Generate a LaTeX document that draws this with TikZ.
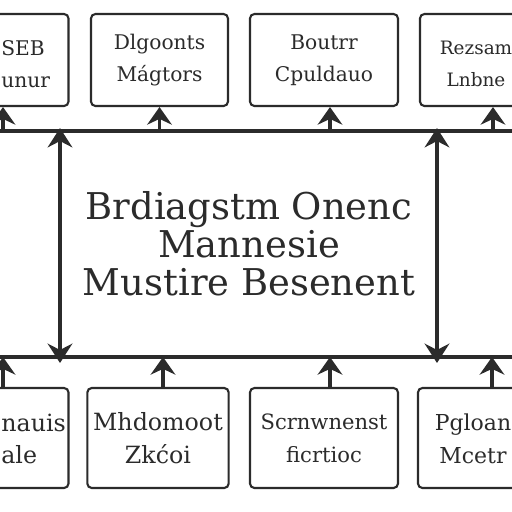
\documentclass[tikz,border=0pt]{standalone}
\usepackage{fontspec}
\setmainfont{DejaVu Serif}
\usepackage{tikz}
\usetikzlibrary{arrows.meta}
\definecolor{ink}{HTML}{2B2B2B}
\newcommand\tightlines{\lineskiplimit=-50pt\relax}
\tikzset{
  box/.style={draw=ink, line width=1.2pt, rounded corners=2.5pt, align=center,
    text=ink, minimum height=1.84cm},
  boxlow/.style={box, minimum height=2cm},
  small/.style={font=\fontsize{11.5}{18}\selectfont},
  big/.style={font=\fontsize{13.5}{18.7}\selectfont},
  edgetxt/.style={text=ink, inner sep=0pt},
  link/.style={draw=ink, line width=1.8pt, -{Stealth[width=14pt,length=10pt]}},
  bus/.style={draw=ink, line width=1.8pt},
  side/.style={draw=ink, line width=1.8pt, {Stealth[width=14pt,length=11pt]}-{Stealth[width=14pt,length=11pt]}}
}
\begin{document}
\begin{tikzpicture}[x=0.02cm,y=-0.02cm]
      \useasboundingbox (0,0) rectangle (512,512);
      \clip (0,0) rectangle (512,512);
      \fill[white] (0,0) rectangle (512,512);
      \draw
        (-1,60) node[box, minimum width=2.78cm] (t1){}
        (159.5,60) node[box, small, minimum width=2.74cm] (t2){Dlgoonts\\Mágtors}
        (324,60) node[box, small, minimum width=2.96cm] (t3){Boutrr\\Cpuldauo}
        (490,60) node[box, minimum width=2.8cm] (t4){}
        (-1,438) node[boxlow, minimum width=2.78cm] (b1){}
        (158,438) node[boxlow, big, minimum width=2.8cm] (b2){Mhdomoot\\Zkćoi}
        (324,438) node[boxlow, font=\fontsize{12}{18.7}\selectfont, minimum width=2.96cm] (b3){Scrnwnenst\\ficrtioc}
        (488,438) node[boxlow, minimum width=2.8cm] (b4){}
        (249,244) node[align=center, text=ink,
          font={\fontsize{21}{21.6}\selectfont\tightlines}] (main){Brdiagstm Onenc\\Mannesie\\Mustire Besenent};
      % texts of the boxes at the left and right edges
      \node[small, edgetxt, align=left, anchor=west] (t1txt) at (1,64) {SEB\\unur};
      \node[big, edgetxt, align=left, anchor=west] (b1txt) at (1,439) {nauis\\ale};
      \node[edgetxt, font=\fontsize{10.5}{18}\selectfont, align=center] (t4txt) at (476,64) {Rezsam\\Lnbne};
      \node[edgetxt, font=\fontsize{12.5}{18.7}\selectfont, align=center] (b4txt) at (473,439) {Pgloan\\Mcetr};
      \coordinate (tl) at (0,131);
      \coordinate (tr) at (512,131);
      \coordinate (bl) at (0,357);
      \coordinate (br) at (512,357);
      \begin{scope}
        \draw[bus] (tl) -- (tr);
        \draw[bus] (bl) -- (br);
        \draw[side] (60,128) coordinate (sl1) -- (60,363) coordinate (sl2);
        \draw[side] (437,128) coordinate (sr1) -- (437,363) coordinate (sr2);
        \draw[link] (3,131) coordinate (c1) -- (c1 |- t1.south);
        \draw[link] (t2.south |- tl) -- (t2.south);
        \draw[link] (330,131) coordinate (c3) -- (c3 |- t3.south);
        \draw[link] (493,131) coordinate (c4) -- (c4 |- t4.south);
        \draw[link] (3,388) coordinate (d1) -- (d1 |- bl);
        \draw[link] (163,388) coordinate (d2) -- (d2 |- bl);
        \draw[link] (330,388) coordinate (d3) -- (d3 |- bl);
        \draw[link] (492,388) coordinate (d4) -- (d4 |- bl);
      \end{scope}
    \end{tikzpicture}
\end{document}
